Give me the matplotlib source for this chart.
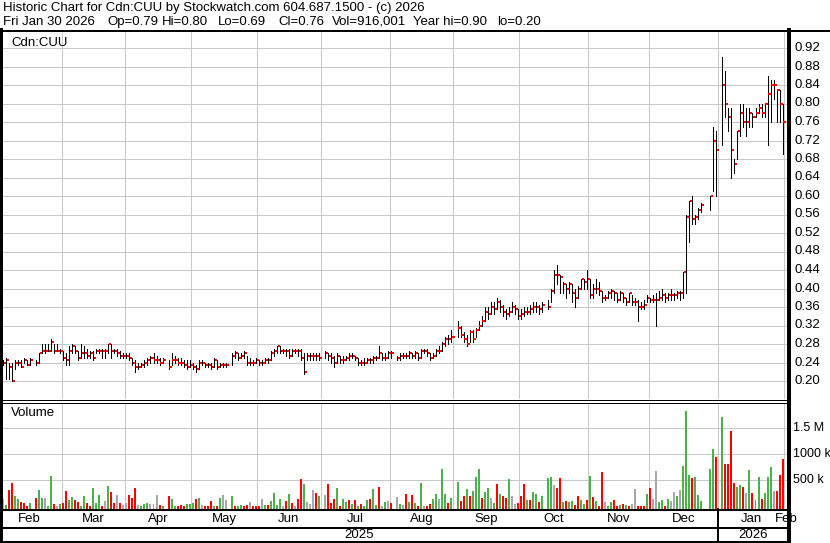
import numpy as np
import pandas as pd
import matplotlib
matplotlib.use('Agg')
import matplotlib.pyplot as plt
from matplotlib.lines import Line2D

plt.rcParams['font.family'] = ['Liberation Sans', 'DejaVu Sans']

# ---- data (one entry per trading day) ----
holidays = ['2025-02-17', '2025-04-18', '2025-05-19', '2025-07-01', '2025-08-04',
            '2025-09-01', '2025-10-13', '2025-12-25', '2025-12-26', '2026-01-01']

close_feb = [0.24, 0.245, 0.23, 0.20, 0.24, 0.24, 0.23, 0.245, 0.235, 0.245, 0.24, 0.26, 0.265, 0.265, 0.265, 0.285, 0.265, 0.265, 0.265]
high_feb = [0.245, 0.25, 0.24, 0.24, 0.245, 0.245, 0.245, 0.25, 0.245, 0.25, 0.245, 0.26, 0.28, 0.28, 0.28, 0.29, 0.28, 0.28, 0.27]
low_feb = [0.235, 0.205, 0.205, 0.20, 0.225, 0.235, 0.23, 0.24, 0.235, 0.235, 0.235, 0.24, 0.26, 0.26, 0.265, 0.265, 0.26, 0.265, 0.26]

close_mar = [0.25, 0.245, 0.265, 0.275, 0.265, 0.25, 0.26, 0.26, 0.255, 0.26, 0.25, 0.265, 0.265, 0.265, 0.265, 0.28, 0.265, 0.265, 0.26, 0.255, 0.255]
high_mar = [0.265, 0.26, 0.275, 0.28, 0.275, 0.265, 0.28, 0.275, 0.27, 0.265, 0.265, 0.27, 0.27, 0.27, 0.27, 0.28, 0.28, 0.27, 0.27, 0.265, 0.26]
low_mar = [0.245, 0.235, 0.235, 0.26, 0.26, 0.245, 0.25, 0.25, 0.25, 0.25, 0.245, 0.26, 0.26, 0.25, 0.25, 0.26, 0.25, 0.26, 0.255, 0.25, 0.25]

close_apr = [0.255, 0.25, 0.24, 0.23, 0.23, 0.235, 0.24, 0.245, 0.25, 0.245, 0.245, 0.24, 0.245, 0.23, 0.245, 0.245, 0.24, 0.24, 0.235, 0.23, 0.235]
high_apr = [0.26, 0.26, 0.25, 0.245, 0.24, 0.24, 0.245, 0.25, 0.255, 0.26, 0.255, 0.25, 0.25, 0.245, 0.26, 0.255, 0.25, 0.25, 0.245, 0.245, 0.245]
low_apr = [0.25, 0.245, 0.235, 0.22, 0.225, 0.23, 0.23, 0.235, 0.24, 0.24, 0.24, 0.235, 0.24, 0.225, 0.235, 0.24, 0.235, 0.235, 0.23, 0.225, 0.23]

close_may = [0.23, 0.225, 0.24, 0.24, 0.235, 0.235, 0.23, 0.245, 0.23, 0.235, 0.235, 0.235, 0.255, 0.26, 0.25, 0.255, 0.26, 0.24, 0.24, 0.24, 0.245]
high_may = [0.24, 0.235, 0.245, 0.245, 0.24, 0.24, 0.24, 0.25, 0.245, 0.24, 0.24, 0.24, 0.26, 0.265, 0.26, 0.26, 0.265, 0.255, 0.25, 0.245, 0.25]
low_may = [0.225, 0.22, 0.225, 0.235, 0.23, 0.23, 0.225, 0.23, 0.225, 0.23, 0.23, 0.23, 0.235, 0.25, 0.245, 0.25, 0.25, 0.235, 0.235, 0.235, 0.24]

close_jun = [0.24, 0.24, 0.245, 0.245, 0.26, 0.265, 0.275, 0.265, 0.265, 0.265, 0.255, 0.265, 0.265, 0.265, 0.25, 0.22, 0.255, 0.255, 0.255, 0.255, 0.25]
high_jun = [0.245, 0.245, 0.25, 0.25, 0.265, 0.27, 0.275, 0.275, 0.27, 0.27, 0.27, 0.27, 0.27, 0.27, 0.27, 0.26, 0.26, 0.26, 0.26, 0.26, 0.26]
low_jun = [0.235, 0.235, 0.24, 0.24, 0.245, 0.255, 0.26, 0.26, 0.26, 0.255, 0.25, 0.255, 0.26, 0.255, 0.245, 0.215, 0.245, 0.245, 0.245, 0.245, 0.245]

close_jul = [0.26, 0.255, 0.25, 0.24, 0.255, 0.245, 0.245, 0.25, 0.255, 0.255, 0.25, 0.24, 0.24, 0.24, 0.245, 0.245, 0.25, 0.25, 0.26, 0.25, 0.25, 0.26]
high_jul = [0.265, 0.26, 0.26, 0.255, 0.26, 0.255, 0.255, 0.255, 0.26, 0.26, 0.255, 0.25, 0.245, 0.25, 0.25, 0.25, 0.255, 0.255, 0.275, 0.26, 0.26, 0.265]
low_jul = [0.25, 0.245, 0.24, 0.23, 0.24, 0.24, 0.24, 0.245, 0.245, 0.25, 0.245, 0.235, 0.235, 0.235, 0.24, 0.24, 0.24, 0.245, 0.25, 0.245, 0.245, 0.25]

close_aug = [0.26, 0.25, 0.255, 0.255, 0.255, 0.26, 0.255, 0.26, 0.25, 0.265, 0.265, 0.26, 0.25, 0.255, 0.265, 0.265, 0.28, 0.29, 0.29, 0.295]
high_aug = [0.265, 0.255, 0.26, 0.26, 0.26, 0.265, 0.26, 0.265, 0.26, 0.27, 0.27, 0.27, 0.26, 0.26, 0.27, 0.275, 0.285, 0.295, 0.30, 0.31]
low_aug = [0.25, 0.245, 0.245, 0.25, 0.25, 0.25, 0.25, 0.25, 0.245, 0.25, 0.26, 0.255, 0.245, 0.25, 0.255, 0.26, 0.265, 0.275, 0.28, 0.285]

close_sep = [0.315, 0.30, 0.29, 0.28, 0.305, 0.29, 0.31, 0.32, 0.33, 0.35, 0.345, 0.36, 0.355, 0.37, 0.36, 0.35, 0.345, 0.35, 0.36, 0.355, 0.34]
high_sep = [0.33, 0.32, 0.305, 0.30, 0.31, 0.31, 0.315, 0.33, 0.34, 0.36, 0.36, 0.37, 0.37, 0.38, 0.375, 0.365, 0.355, 0.36, 0.37, 0.365, 0.355]
low_sep = [0.295, 0.295, 0.285, 0.275, 0.285, 0.285, 0.295, 0.31, 0.32, 0.33, 0.335, 0.345, 0.345, 0.355, 0.35, 0.34, 0.335, 0.34, 0.35, 0.345, 0.335]

close_oct = [0.345, 0.35, 0.35, 0.355, 0.36, 0.36, 0.355, 0.365, 0.36, 0.395, 0.43, 0.43, 0.425, 0.41, 0.40, 0.41, 0.39, 0.38, 0.40, 0.42, 0.415, 0.42]
high_oct = [0.355, 0.36, 0.36, 0.365, 0.37, 0.37, 0.365, 0.37, 0.375, 0.40, 0.44, 0.45, 0.43, 0.415, 0.41, 0.415, 0.41, 0.40, 0.405, 0.42, 0.42, 0.44]
low_oct = [0.335, 0.34, 0.345, 0.345, 0.35, 0.35, 0.345, 0.35, 0.355, 0.37, 0.39, 0.41, 0.39, 0.39, 0.38, 0.39, 0.37, 0.36, 0.38, 0.40, 0.40, 0.40]

close_nov = [0.385, 0.40, 0.40, 0.395, 0.38, 0.38, 0.39, 0.395, 0.39, 0.375, 0.39, 0.38, 0.37, 0.39, 0.37, 0.37, 0.36, 0.36, 0.365, 0.38]
high_nov = [0.42, 0.41, 0.42, 0.415, 0.395, 0.385, 0.395, 0.40, 0.395, 0.39, 0.395, 0.39, 0.38, 0.39, 0.385, 0.38, 0.375, 0.37, 0.375, 0.385]
low_nov = [0.38, 0.38, 0.39, 0.385, 0.37, 0.375, 0.38, 0.38, 0.375, 0.37, 0.375, 0.37, 0.365, 0.37, 0.365, 0.365, 0.33, 0.355, 0.355, 0.37]

close_dec = [0.375, 0.375, 0.375, 0.38, 0.385, 0.38, 0.385, 0.385, 0.385, 0.39, 0.39, 0.435, 0.555, 0.59, 0.55, 0.555, 0.57, 0.58, 0.60, 0.72, 0.70]
high_dec = [0.38, 0.385, 0.39, 0.395, 0.40, 0.39, 0.39, 0.40, 0.39, 0.395, 0.395, 0.435, 0.56, 0.59, 0.60, 0.56, 0.575, 0.585, 0.60, 0.75, 0.74]
low_dec = [0.37, 0.37, 0.32, 0.375, 0.375, 0.37, 0.375, 0.375, 0.375, 0.38, 0.375, 0.38, 0.39, 0.50, 0.54, 0.54, 0.55, 0.565, 0.57, 0.61, 0.60]

close_jan = [0.84, 0.80, 0.77, 0.70, 0.67, 0.74, 0.78, 0.76, 0.76, 0.78, 0.77, 0.78, 0.79, 0.78, 0.80, 0.82, 0.84, 0.84, 0.83, 0.80, 0.76]
high_jan = [0.90, 0.87, 0.79, 0.79, 0.68, 0.74, 0.80, 0.80, 0.79, 0.79, 0.78, 0.79, 0.80, 0.80, 0.80, 0.86, 0.85, 0.85, 0.83, 0.83, 0.80]
low_jan = [0.71, 0.77, 0.74, 0.64, 0.65, 0.68, 0.73, 0.75, 0.73, 0.75, 0.75, 0.77, 0.78, 0.77, 0.77, 0.71, 0.76, 0.81, 0.76, 0.76, 0.69]

# volume in thousands of shares, colour code g=up r=down n=unchanged
vol_feb = [141, 26, 314, 442, 199, 135, 90, 58, 5, 58, 154, 314, 154, 154, 5, 583, 45, 5, 45]
dir_feb = 'ngrrggrrrgrggnggrng'
vol_mar = [58, 295, 122, 186, 122, 90, 6, 199, 71, 6, 346, 71, 218, 6, 103, 397, 276, 71, 218, 71, 26]
dir_mar = 'rrggrrggrrgggrngrrnrn'
vol_apr = [71, 218, 167, 353, 26, 5, 51, 71, 51, 51, 218, 26, 5, 199, 135, 5, 5, 26, 5, 45, 45]
dir_apr = 'nrrrngggnnnrgrggrrrgg'
vol_may = [71, 135, 154, 26, 6, 6, 103, 5, 5, 154, 218, 122, 199, 5, 5, 26, 5, 26, 77, 5, 5]
dir_may = 'grgnrrrgrgnngrggrrnrr'
vol_jun = [5, 141, 26, 26, 103, 250, 26, 135, 5, 103, 237, 71, 5, 135, 526, 429, 90, 45, 314, 263, 199]
dir_jun = 'rngrggggnrgrnrrgnnnrg'
vol_jul = [218, 429, 71, 141, 353, 5, 141, 90, 115, 51, 115, 5, 51, 6, 115, 141, 333, 26, 378, 5, 83, 103]
dir_jul = 'nrrrgrggrgrgrggrggrngn'
vol_aug = [71, 180, 51, 26, 237, 83, 218, 71, 6, 455, 5, 5, 45, 135, 237, 135, 718, 237, 71, 160]
dir_aug = 'rngnrgrgrgnrrggnggrg'
vol_sep = [462, 103, 199, 333, 199, 295, 571, 718, 160, 276, 353, 160, 64, 429, 237, 199, 160, 526, 199, 45, 64]
dir_sep = 'grrgrgggrggngrgrrgnnr'
vol_oct = [199, 429, 122, 122, 276, 237, 83, 199, 545, 571, 410, 353, 545, 90, 103, 83, 103, 26, 199, 122, 45, 122]
dir_oct = 'rrgrggrgggnrrgrggrrggr'
vol_nov = [583, 180, 103, 6, 660, 83, 6, 83, 122, 6, 26, 45, 26, 5, 45, 333, 5, 5, 5, 237]
dir_nov = 'grgrrnggrrgrgrnnrrrg'
vol_dec = [353, 141, 680, 83, 122, 6, 141, 103, 276, 199, 314, 776, 1833, 603, 545, 564, 218, 103, 718, 1103, 949]
dir_dec = 'rnnggrgnngngggrgggggr'
vol_jan = [1718, 814, 814, 1449, 449, 372, 410, 372, 256, 699, 256, 122, 564, 141, 256, 564, 758, 295, 295, 603, 916]
dir_jan = 'grrrrggrngrggrgggnrrr'

price_ticks = [0.20, 0.24, 0.28, 0.32, 0.36, 0.40, 0.44, 0.48, 0.52, 0.56, 0.60,
               0.64, 0.68, 0.72, 0.76, 0.80, 0.84, 0.88, 0.92]
vol_ticks = [500, 1000, 1500]
vol_tick_labels = ['500 k', '1000 k', '1.5 M']
month_names = ['Feb', 'Mar', 'Apr', 'May', 'Jun', 'Jul', 'Aug', 'Sep', 'Oct', 'Nov', 'Dec', 'Jan', 'Feb']

title1 = 'Historic Chart for Cdn:CUU by Stockwatch.com 604.687.1500 - (c) 2026'
# second header line, pieces with their left pixel position
title2 = [('Fri Jan 30 2026', 3), ('Op=0.79', 107), ('Hi=0.80', 162), ('Lo=0.69', 218),
          ('Cl=0.76', 278), ('Vol=916,001', 332), ('Year hi=0.90', 413), ('lo=0.20', 497)]

# ---- assemble ----
closes = np.array(close_feb + close_mar + close_apr + close_may + close_jun + close_jul +
                  close_aug + close_sep + close_oct + close_nov + close_dec + close_jan)
highs = np.array(high_feb + high_mar + high_apr + high_may + high_jun + high_jul +
                 high_aug + high_sep + high_oct + high_nov + high_dec + high_jan)
lows = np.array(low_feb + low_mar + low_apr + low_may + low_jun + low_jul +
                low_aug + low_sep + low_oct + low_nov + low_dec + low_jan)
vols = np.array(vol_feb + vol_mar + vol_apr + vol_may + vol_jun + vol_jul +
                vol_aug + vol_sep + vol_oct + vol_nov + vol_dec + vol_jan, dtype=float)
dirs = (dir_feb + dir_mar + dir_apr + dir_may + dir_jun + dir_jul +
        dir_aug + dir_sep + dir_oct + dir_nov + dir_dec + dir_jan)

weekdays = pd.bdate_range('2025-02-03', '2026-01-30')
trade = weekdays[~weekdays.isin(pd.to_datetime(holidays))]
slots = weekdays.get_indexer(trade)

# first weekday slot of every month, plus the month after the end
mstart = pd.Series(np.arange(len(weekdays)), index=weekdays).groupby(weekdays.to_period('M')).min().values
mstart = np.append(mstart, len(weekdays))

W, H = 830, 543
GRID = '#c8c8c8'
GREEN, RED, GREY = '#4cb04c', '#ff0000', '#a8a8a8'
PX = 0.72  # one pixel in points at 100 dpi
FS = 9.5


def box(x0, y0, x1, y1):
    return [x0 / W, 1 - y1 / H, (x1 - x0) / W, (y1 - y0) / H]


def px_line(x0, y0, x1, y1, lw=1.0):
    fig.add_artist(Line2D([x0 / W, x1 / W], [1 - y0 / H, 1 - y1 / H], color='black',
                          lw=lw * PX, transform=fig.transFigure, antialiased=False))


# x pixel of slot s:  3 + 3.01*s  ; axes run from px 2 to 788
def s2px(s):
    return 3 + 3.01 * s


xlim = ((2 - 3) / 3.01, (788 - 3) / 3.01)

fig = plt.figure(figsize=(W / 100, H / 100), dpi=100)
fig.patch.set_facecolor('white')

ax = fig.add_axes(box(2, 31, 788, 399))
axv = fig.add_axes(box(2, 403, 788, 509))

# price y: 0.20 at px 381, 0.92 at px 48
ppx = (381 - 48) / 0.72
ax.set_ylim(0.20 - (399 - 381) / ppx, 0.20 + (381 - 31) / ppx)
# volume y: 0 at px 506.3, 500k at px 480.3
vpx = 26.0 / 500
vmin = -(509 - 506.3) / vpx
axv.set_ylim(vmin, (506.3 - 403) / vpx)

for a in (ax, axv):
    a.set_xlim(*xlim)
    a.set_xticks([])
    a.set_yticks([])
    for sp in a.spines.values():
        sp.set_visible(False)
    for m in mstart[1:]:
        a.axvline(m - 0.5, color=GRID, lw=PX, zorder=0, antialiased=False)

for t in price_ticks:
    ax.axhline(t, color=GRID, lw=PX, zorder=0, antialiased=False)
for t in vol_ticks:
    axv.axhline(t, color=GRID, lw=PX, zorder=0, antialiased=False)

# OHLC: thin black high-low line, red close tick to the right
ax.vlines(slots, lows, highs, color='black', lw=PX, zorder=3, antialiased=False)
ax.hlines(closes, slots + 0.3, slots + 1.0, color='red', lw=2 * PX, zorder=4, antialiased=False)

cmap = {'g': GREEN, 'r': RED, 'n': GREY}
bar_cols = [cmap[c] for c in dirs]
axv.bar(slots, vols - vmin, bottom=vmin, width=0.66, color=bar_cols, lw=0, zorder=3)

ax.text(9 / 786, 1 - (43 - 31) / 368, 'Cdn:CUU', transform=ax.transAxes,
        fontsize=FS, va='center', ha='left')
axv.text(9 / 786, 1 - (413 - 403) / 106, 'Volume', transform=axv.transAxes,
         fontsize=FS, va='center', ha='left')

# right-hand labels
for t in price_ticks:
    ypx = 381 - (t - 0.20) * ppx
    fig.text(794 / W, 1 - ypx / H, f'{t:.2f}', fontsize=FS, va='center', ha='left')
for t, lab in zip(vol_ticks, vol_tick_labels):
    ypx = 506.3 - t * vpx
    fig.text(793 / W, 1 - ypx / H, lab, fontsize=9, va='center', ha='left')

# titles
fig.text(3 / W, 1 - 8 / H, title1, fontsize=FS, va='center', ha='left')
for txt, xp in title2:
    fig.text(xp / W, 1 - 22 / H, txt, fontsize=FS, va='center', ha='left')

# month labels and years
for i, name in enumerate(month_names):
    if i == 0:
        cx = (s2px(-0.5) + s2px(mstart[1] - 0.5)) / 2 - 2
    elif i < len(month_names) - 1:
        cx = (s2px(mstart[i] - 0.5) + s2px(mstart[i + 1] - 0.5)) / 2
    else:
        cx = s2px(mstart[i] - 0.5) + 2
    fig.text(cx / W, 1 - 519 / H, name, fontsize=FS, va='center', ha='center')

jan_px = s2px(mstart[11] - 0.5)
fig.text(jan_px / 2 / W, 1 - 535 / H, '2025', fontsize=FS, va='center', ha='center')
fig.text((jan_px + 788) / 2 / W, 1 - 535 / H, '2026', fontsize=FS, va='center', ha='center')

# frame lines
px_line(0, 30.5, W, 30.5, 2)
px_line(1, 30, 1, H, 2.5)
px_line(789, 30, 789, H, 2.5)
px_line(0, 399.5, 789, 399.5, 1)
px_line(0, 402.5, 789, 402.5, 1)
px_line(0, 509.5, 789, 509.5, 2)
px_line(0, 527.5, 789, 527.5, 2)
px_line(0, 542, 789, 542, 2)
px_line(jan_px, 509, jan_px, 543, 1.5)

fig.savefig('out.png', dpi=100, facecolor='white')
